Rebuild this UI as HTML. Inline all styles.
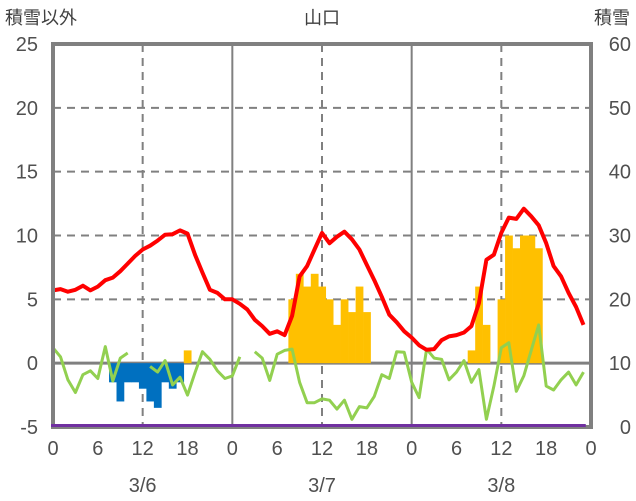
<!DOCTYPE html>
<html><head><meta charset="utf-8">
<style>
html,body{margin:0;padding:0;background:#fff;}
svg{display:block;font-family:"Liberation Sans","Noto Sans CJK JP",sans-serif;}
</style></head>
<body>
<svg id="chart" width="636" height="501" viewBox="0 0 636 501">
<g id="grid"></g>
<g id="bars"></g>
<g id="lines"></g>
<g id="frame"></g>
<g id="top"></g>
<g id="labels" fill="#505050" font-size="20"></g>
<text x="5" y="24" font-size="18" fill="#404040">積雪以外</text>
<text x="322" y="24" font-size="18" fill="#404040" text-anchor="middle">山口</text>
<text x="630" y="24" font-size="18" fill="#404040" text-anchor="end">積雪</text>
</svg>
<script>
const leftTicks=[-5,0,5,10,15,20,25];
const rightTicks=[0,10,20,30,40,50,60];
const hourTicks=[0,6,12,18,0,6,12,18,0,6,12,18,0];
const dayLabels=["3/6","3/7","3/8"];
const temperature=[5.7,5.8,5.6,5.75,6.07,5.7,6.0,6.5,6.7,7.2,7.8,8.4,8.9,9.2,9.6,10.06,10.1,10.4,10.15,8.5,7.1,5.75,5.5,5.0,
5.0,4.65,4.2,3.4,2.9,2.3,2.5,2.2,3.7,6.8,7.6,8.9,10.2,9.4,9.9,10.3,9.7,8.9,7.7,6.5,5.2,3.8,3.2,2.5,
2.0,1.4,1.05,1.1,1.8,2.1,2.2,2.4,2.9,4.7,8.1,8.5,10.2,11.4,11.3,12.1,11.5,10.8,9.4,7.6,6.8,5.5,4.4,3.0];
const windSeries=[1.2,0.5,-1.3,-2.3,-0.9,-0.6,-1.2,1.3,-1.4,0.4,0.8,null,null,-0.25,-0.7,0.2,-1.7,-1.1,-2.5,-0.75,0.9,0.3,-0.6,-1.2,
-1.0,0.5,null,0.9,0.4,-1.35,0.7,1.0,1.1,-1.5,-3.1,-3.1,-2.8,-2.9,-3.6,-2.9,-4.4,-3.4,-3.5,-2.6,-0.9,-1.2,0.9,0.85,
-1.5,-2.7,1.1,0.4,0.3,-1.3,-0.7,0.2,-1.5,-0.5,-4.4,-1.8,1.2,1.6,-2.2,-1.0,1.0,3.0,-1.8,-2.1,-1.3,-0.7,-1.7,-0.7];
const barHours=[8,9,10,11,12,13,14,15,16,17,18,32,33,34,35,36,37,38,39,40,41,42,56,57,58,60,61,62,63,64,65];
const barValues=[-1.5,-3,-1.5,-1.5,-2,-3,-3.5,-1.5,-2,-1.5,1,5,7,6,7,6,5,3,5,4,6,4,1,6,3,5,10,9,10,10,9];
const snowDepth=[0,0];

const X0=53,X1=591,Y0=44,Y1=427;
const NS="http://www.w3.org/2000/svg";
function xs(h){return X0+h*(X1-X0)/72;}
function yl(v){return Y1-(v+5)*(Y1-Y0)/30;}
function yr(v){return Y1-v*(Y1-Y0)/60;}
function mk(tag,attrs,parent){const e=document.createElementNS(NS,tag);for(const k in attrs)e.setAttribute(k,attrs[k]);document.getElementById(parent).appendChild(e);return e;}

leftTicks.forEach(v=>{
  if(v===-5||v===25)return;
  const l=mk('line',{x1:X0,x2:X1,y1:yl(v),y2:yl(v),stroke:'#808080','stroke-width':v===0?3:2,'stroke-dasharray':v===0?'':'8 6'},'grid');
  
  
});
[12,36,60].forEach(h=>{
  const l=mk('line',{x1:xs(h),x2:xs(h),y1:Y0,y2:Y1,stroke:'#808080','stroke-width':2,'stroke-dasharray':'8 6'},'grid');
  
  
});
[24,48].forEach(h=>{
  const l=mk('line',{x1:xs(h),x2:xs(h),y1:Y0,y2:Y1,stroke:'#808080','stroke-width':2},'grid');
  
  
});

const bw=(X1-X0)/72;
barHours.forEach((h,i)=>{
  const v=barValues[i];
  const y=Math.min(yl(0),yl(v)),hh=Math.abs(yl(v)-yl(0));
  const r=mk('rect',{x:xs(h)-bw/2,y:y,width:bw+0.3,height:hh,fill:v<0?'#0070C0':'#FFC000'},'bars');
  
  
});

function poly(arr,scale,color,w,name){
  let segs=[],cur=[];
  arr.forEach((v,h)=>{if(v===null){if(cur.length)segs.push(cur);cur=[];}else cur.push(xs(h).toFixed(1)+','+scale(v).toFixed(1));});
  if(cur.length)segs.push(cur);
  segs.forEach(s=>{
    const p=mk('polyline',{points:s.join(' '),fill:'none',stroke:color,'stroke-width':w,'stroke-linejoin':'round'},'lines');
    
    
  });
}
poly(windSeries,yl,'#92D050',3,'green-line');
poly(temperature,yl,'#FF0000',4,'temperature-line');

const fr=mk('rect',{x:X0,y:Y0,width:X1-X0,height:Y1-Y0,fill:'none',stroke:'#808080','stroke-width':4},'frame');



const sd=mk('line',{x1:X0-2,x2:xs(71.3),y1:yr(snowDepth[0])-1.5,y2:yr(snowDepth[1])-1.5,stroke:'#7030A0','stroke-width':3},'top');



leftTicks.forEach(v=>{
  const t=mk('text',{x:38,y:yl(v)+7,'text-anchor':'end'},'labels');t.textContent=v;
  
  
});
rightTicks.forEach(v=>{
  const t=mk('text',{x:631,y:yr(v)+7,'text-anchor':'end'},'labels');t.textContent=v;
  
  
});
hourTicks.forEach((v,i)=>{
  const t=mk('text',{x:xs(i*6),y:455,'text-anchor':'middle'},'labels');t.textContent=v;
  
  
});
dayLabels.forEach((d,i)=>{
  const t=mk('text',{x:xs(12+24*i),y:492,'text-anchor':'middle'},'labels');t.textContent=d;
  
  
});
</script>
</body></html>
